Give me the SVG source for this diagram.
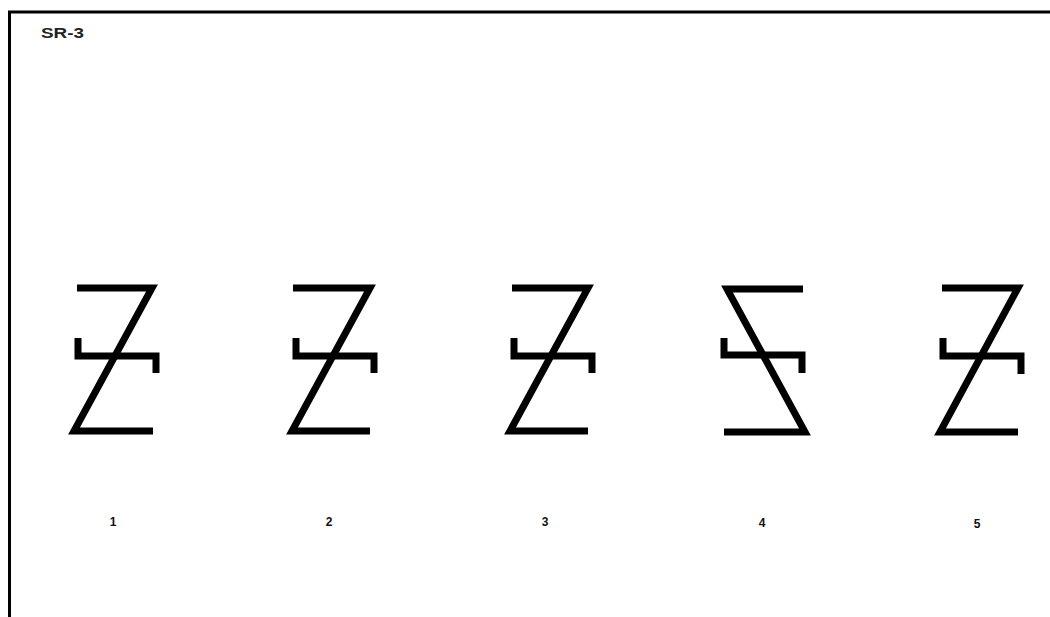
<svg xmlns="http://www.w3.org/2000/svg" width="1050" height="617" viewBox="0 0 1050 617">
<style>
.fig{fill:none;stroke:#000;stroke-width:7;stroke-linejoin:miter;stroke-linecap:butt;stroke-miterlimit:10}
.lbl{font-family:"Liberation Sans",Arial,sans-serif;font-weight:bold;font-size:12px;fill:#111;text-anchor:middle}
.title{font-family:"Liberation Sans",Arial,sans-serif;font-weight:bold;font-size:14px;fill:#222}
</style>
<rect width="1050" height="617" fill="#fff"/>
<path d="M9.5,617 V12 H1050" fill="none" stroke="#000" stroke-width="3"/>
<text class="title" x="41" y="38" textLength="43" lengthAdjust="spacingAndGlyphs">SR-3</text>
<g id="fig1" class="fig">
<polyline points="77,288 152,288 74,431 153,431"/>
<polyline points="78,338 78,356 156,356 156,373"/>
</g>
<g id="fig2" class="fig">
<polyline points="293,288 370,288 292,431 370,431"/>
<polyline points="296,338 296,356 374,356 374,373"/>
</g>
<g id="fig3" class="fig">
<polyline points="512,288 588,288 510,431 588,431"/>
<polyline points="514,338 514,356 592,356 592,373"/>
</g>
<g id="fig4" class="fig">
<polyline points="803,289 727,289 805,432 724,432"/>
<polyline points="724,338 724,355 802,355 802,373"/>
</g>
<g id="fig5" class="fig">
<polyline points="942,288 1018,288 940,432 1018,432"/>
<polyline points="943,338 943,356 1021,356 1021,374"/>
</g>
<g id="labels">
<text class="lbl" x="113" y="526">1</text>
<text class="lbl" x="329" y="526">2</text>
<text class="lbl" x="545" y="526">3</text>
<text class="lbl" x="762" y="527">4</text>
<text class="lbl" x="977" y="528">5</text>
</g>
</svg>
